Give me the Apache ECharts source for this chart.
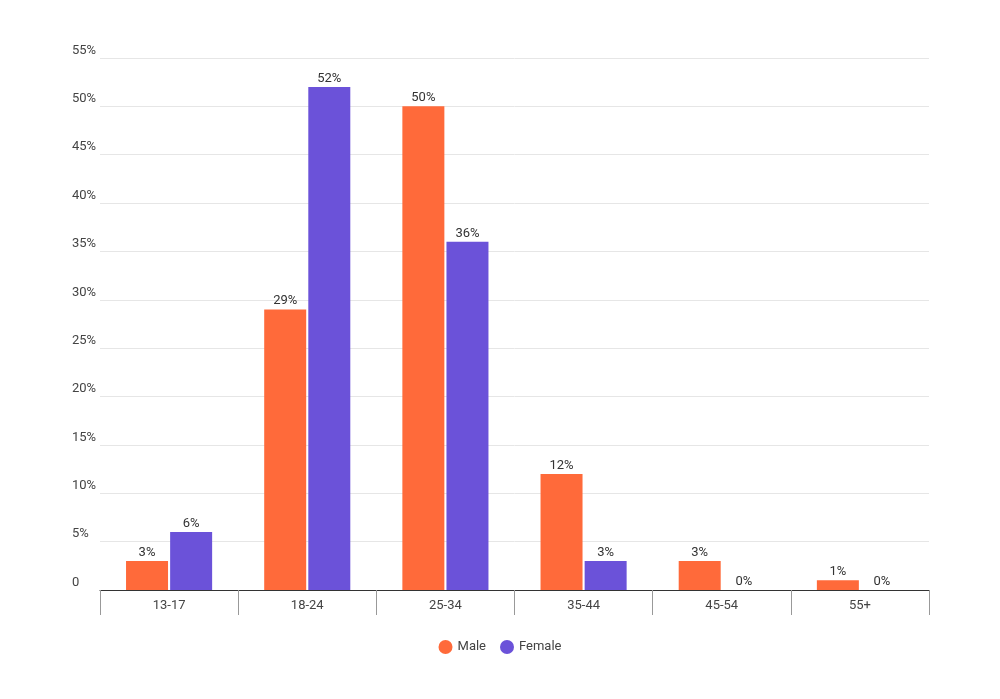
<!DOCTYPE html>
<html>
<head>
	<meta charset="utf-8">
	<title>Age / gender</title>
	<script src="https://cdn.jsdelivr.net/npm/echarts@6/dist/echarts.min.js"></script>
	<style>
		html, body { margin: 0; padding: 0; background: #fff; }
		#main { width: 1000px; height: 699px; }
	</style>
</head>
<body>
	<div id="main"></div>
	<script>
		// data
		var ageGroups = ['13-17', '18-24', '25-34', '35-44', '45-54', '55+'];
		var male = [3, 29, 50, 12, 3, 1];
		var female = [6, 52, 36, 3, 0, 0];
		var yTicks = [0, 5, 10, 15, 20, 25, 30, 35, 40, 45, 50, 55];

		var myChart = echarts.init(document.getElementById('main'));

		var barLabel = {
			show: true,
			position: 'top',
			distance: 2,
			formatter: '{c}%',
			color: '#333',
			fontSize: 13,
			fontFamily: 'Roboto'
		};

		myChart.setOption({
			backgroundColor: '#fff',
			textStyle: { fontFamily: 'Roboto' },
			grid: { left: 100, right: 71, top: 58, bottom: 109 },
			legend: {
				bottom: 40,
				left: 'center',
				icon: 'circle',
				itemWidth: 14,
				itemHeight: 14,
				itemGap: 14,
				textStyle: { color: '#444', fontSize: 13, fontFamily: 'Roboto' },
				data: ['Male', 'Female']
			},
			xAxis: {
				type: 'category',
				data: ageGroups,
				axisLine: { lineStyle: { color: '#333', width: 1 } },
				axisTick: { show: true, length: 25, lineStyle: { color: '#999' } },
				axisLabel: { color: '#444', fontSize: 13, margin: 9 }
			},
			yAxis: {
				type: 'value',
				min: yTicks[0],
				max: yTicks[yTicks.length - 1],
				interval: 5,
				axisLine: { show: false },
				axisTick: { show: false },
				splitLine: { lineStyle: { color: '#e6e6e6' } },
				axisLabel: {
					color: '#444',
					fontSize: 13,
					align: 'left',
					verticalAlign: 'bottom',
					margin: 28,
					padding: [0, 0, 1, 0],
					formatter: function (v) { return v === 0 ? '0' : v + '%'; }
				}
			},
			series: [
				{
					name: 'Male',
					type: 'bar',
					data: male,
					barWidth: 42,
					barGap: '5%',
					itemStyle: { color: '#ff6a3a' },
					label: barLabel
				},
				{
					name: 'Female',
					type: 'bar',
					data: female,
					barWidth: 42,
					itemStyle: { color: '#6b52d9' },
					label: barLabel
				}
			]
		});
	</script>
</body>
</html>
